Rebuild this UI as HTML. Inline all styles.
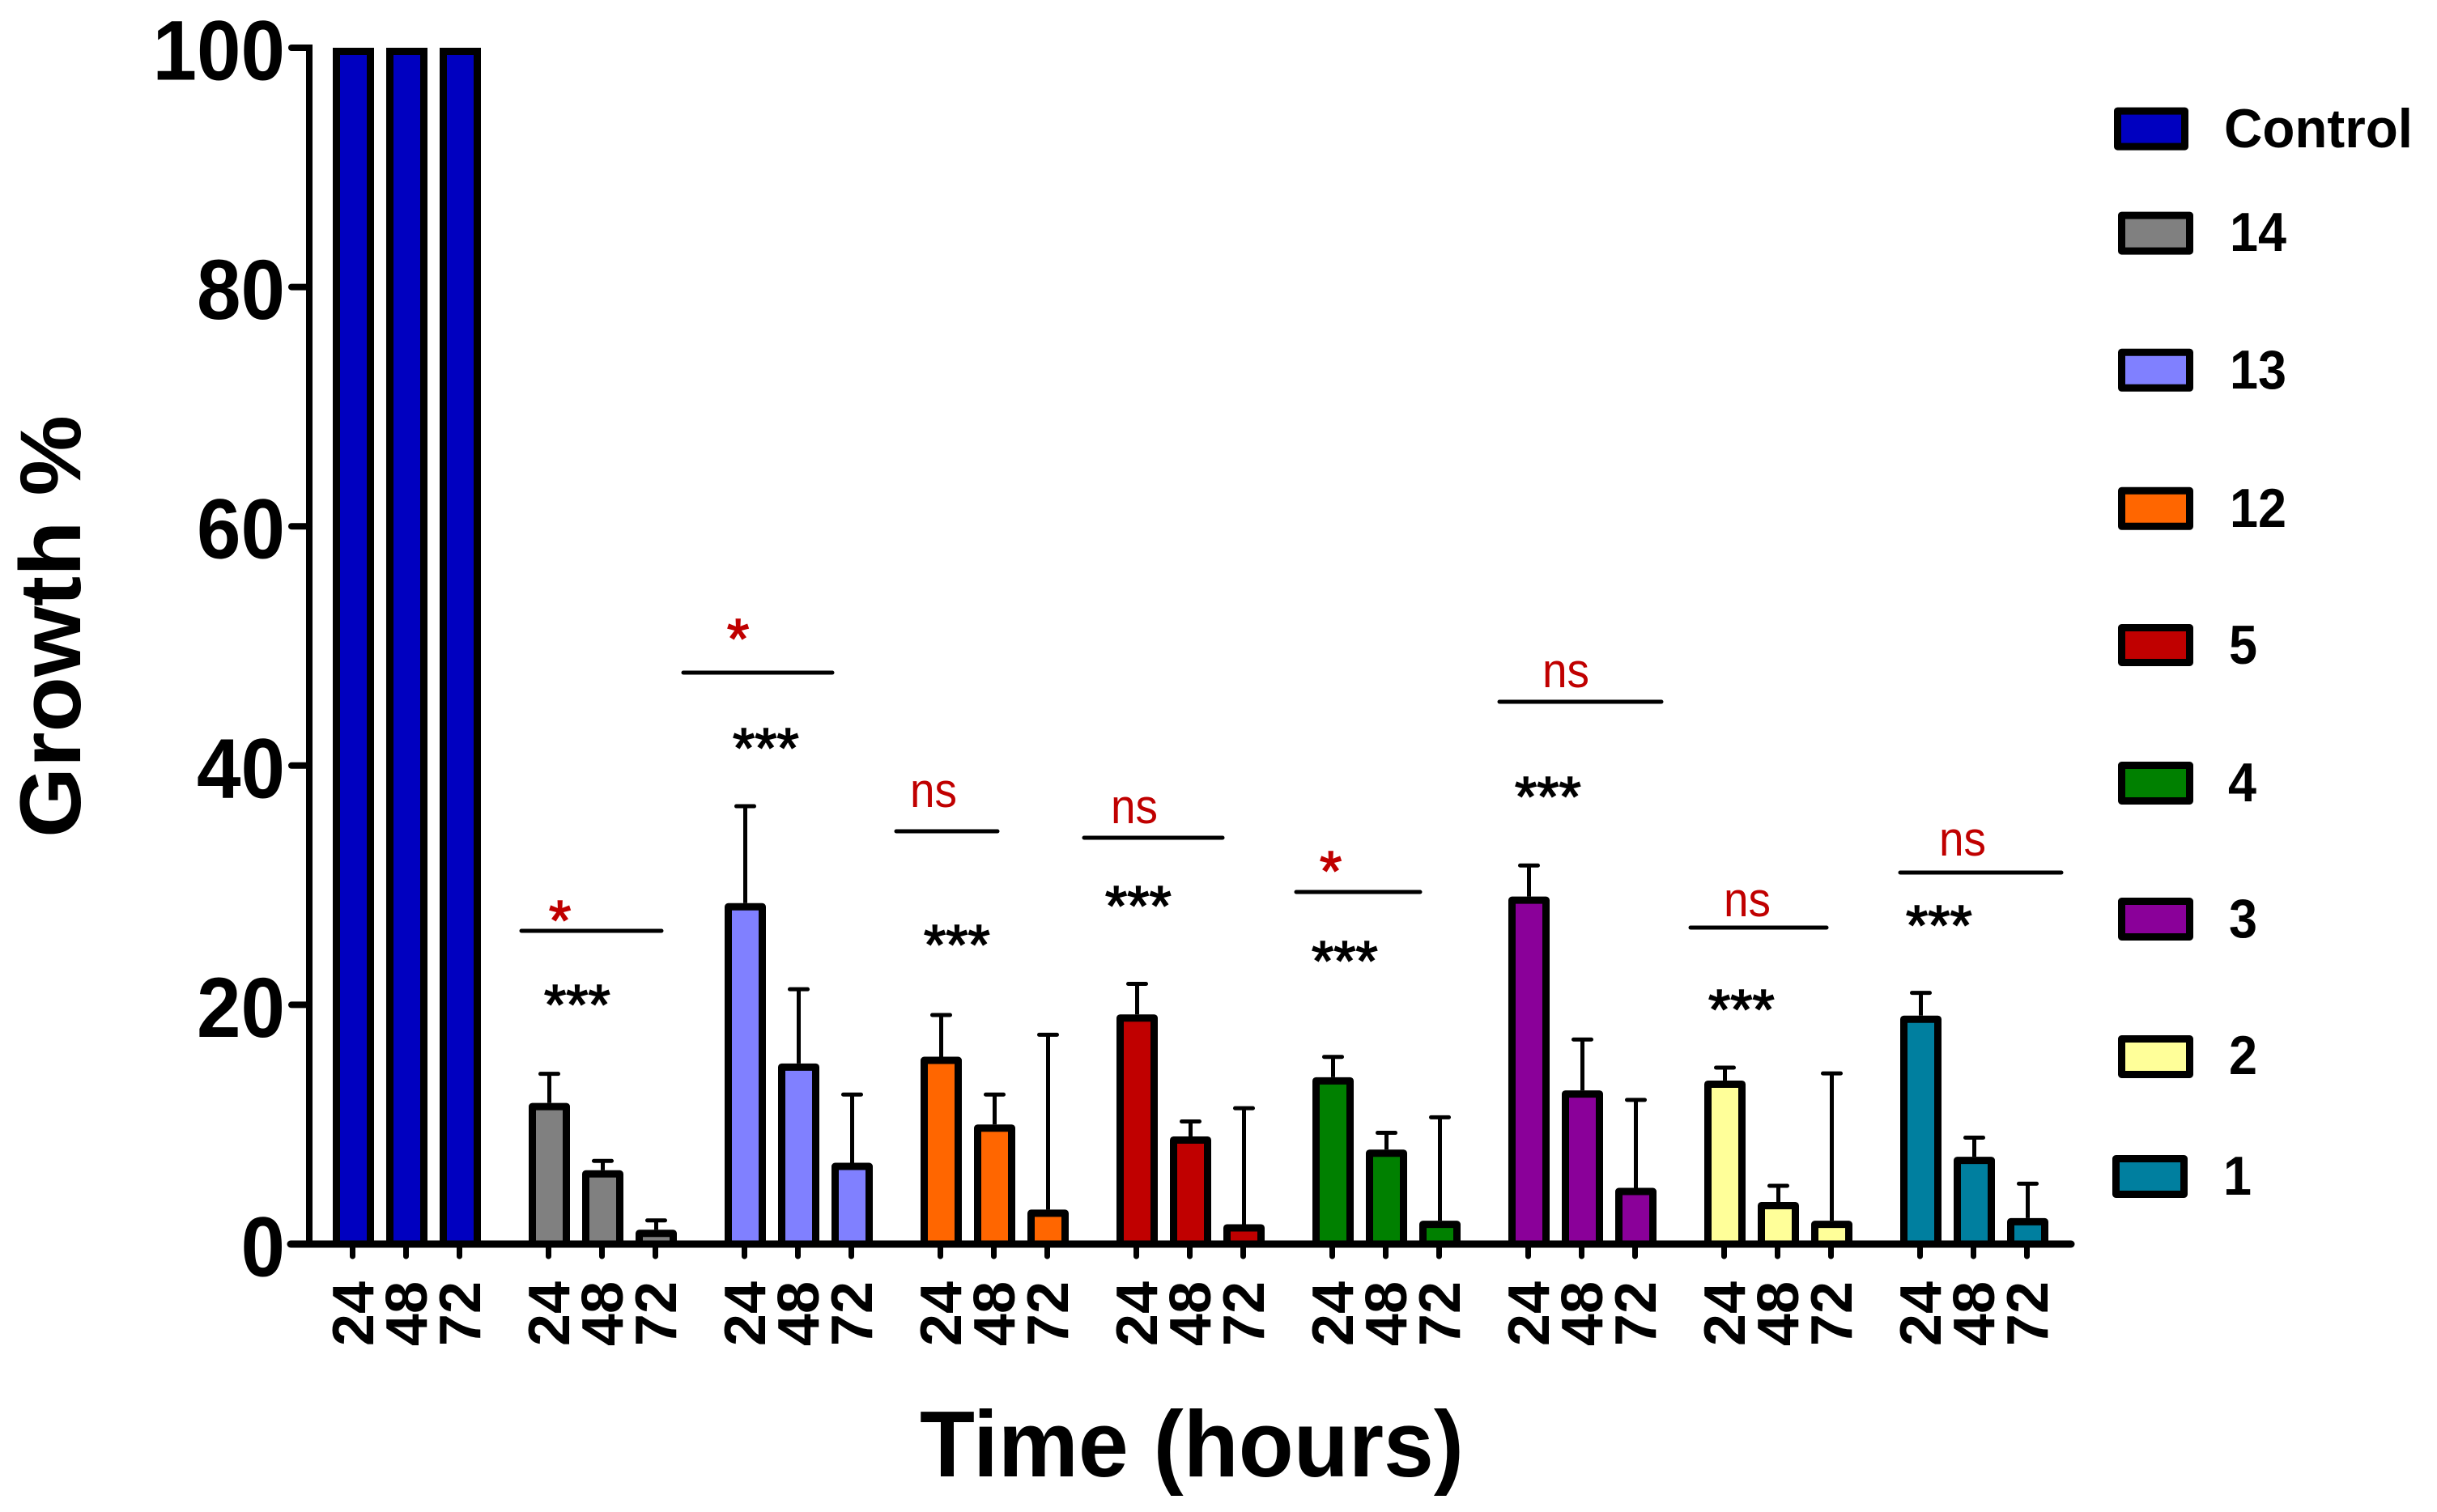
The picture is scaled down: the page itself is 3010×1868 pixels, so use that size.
<!DOCTYPE html>
<html>
<head>
<meta charset="utf-8">
<title>Growth % over time</title>
<style>
html,body{margin:0;padding:0;background:#fff;width:3010px;height:1868px;overflow:hidden}
svg{display:block}
text{font-family:"Liberation Sans",sans-serif}
.b{font-weight:700;fill:#000}
.stars{font-size:70px;fill:#000;stroke:#000;stroke-width:1.6}
.sig{fill:#c00000;stroke:#c00000}
.ns{font-size:60px;fill:#c00000}
.br{stroke:#000;stroke-width:5;stroke-linecap:round}
</style>
</head>
<body>
<svg id="chart" xmlns="http://www.w3.org/2000/svg" width="3010" height="1868" viewBox="0 0 3010 1868">
  <rect x="0" y="0" width="3010" height="1868" fill="#fff"/>
  <g id="marks"></g>
  <g id="axes"></g>

  <text class="b" font-size="107" transform="translate(99,1035) rotate(-90)" textLength="522" lengthAdjust="spacingAndGlyphs">Growth %</text>
  <text class="b" font-size="116" x="1136" y="1824" textLength="672" lengthAdjust="spacingAndGlyphs">Time (hours)</text>

  <g>
    <line class="br" x1="644" x2="817" y1="1150" y2="1150"/>
    <text class="stars sig" x="678" y="1161">*</text>
    <text class="stars" x="672" y="1265">***</text>

    <line class="br" x1="844" x2="1028" y1="831" y2="831"/>
    <text class="stars sig" x="898" y="813">*</text>
    <text class="stars" x="905" y="948">***</text>

    <line class="br" x1="1107" x2="1232" y1="1027" y2="1027"/>
    <text class="ns" x="1124" y="997" textLength="58" lengthAdjust="spacingAndGlyphs">ns</text>
    <text class="stars" x="1141" y="1191">***</text>

    <line class="br" x1="1339" x2="1510" y1="1035" y2="1035"/>
    <text class="ns" x="1372" y="1017" textLength="58" lengthAdjust="spacingAndGlyphs">ns</text>
    <text class="stars" x="1365" y="1143">***</text>

    <line class="br" x1="1601" x2="1754" y1="1102" y2="1102"/>
    <text class="stars sig" x="1630" y="1100">*</text>
    <text class="stars" x="1620" y="1211">***</text>

    <line class="br" x1="1852" x2="2052" y1="867" y2="867"/>
    <text class="ns" x="1905" y="849" textLength="58" lengthAdjust="spacingAndGlyphs">ns</text>
    <text class="stars" x="1871" y="1008">***</text>

    <line class="br" x1="2088" x2="2256" y1="1146" y2="1146"/>
    <text class="ns" x="2129" y="1132" textLength="58" lengthAdjust="spacingAndGlyphs">ns</text>
    <text class="stars" x="2110" y="1271">***</text>

    <line class="br" x1="2347" x2="2546" y1="1078" y2="1078"/>
    <text class="ns" x="2395" y="1057" textLength="58" lengthAdjust="spacingAndGlyphs">ns</text>
    <text class="stars" x="2354" y="1167">***</text>
  </g>

  <g id="legend"></g>
</svg>
<script>
// ---- chart data ----
const groups = ["Control","14","13","12","5","4","3","2","1"];
const times = ["24","48","72"];
const yTicks = [0,20,40,60,80,100];
const colors = ["#0000c0","#808080","#8080ff","#ff6600","#c00000","#008000","#8a0099","#ffff99","#007f9f"];

const valControl = [100,100,100];
const val14 = [11.8,6.17,1.2];
const val13 = [28.5,15.1,6.8];
const val12 = [15.66,10.0,2.88];
const val5  = [19.2,9.0,1.66];
const val4  = [13.95,7.9,1.95];
const val3  = [29.05,12.85,4.7];
const val2  = [13.67,3.52,1.95];
const val1  = [19.1,7.3,2.17];

const errControl = [0,0,0];
const err14 = [2.43,0.78,0.78];
const err13 = [8.1,6.2,5.7];
const err12 = [3.49,2.5,14.62];
const err5  = [2.55,1.25,9.7];
const err4  = [1.7,1.4,8.65];
const err3  = [2.6,4.25,7.35];
const err2  = [1.08,1.35,12.32];
const err1  = [1.9,1.6,2.88];

const values = [valControl,val14,val13,val12,val5,val4,val3,val2,val1];
const errors = [errControl,err14,err13,err12,err5,err4,err3,err2,err1];

// ---- axis functions ----
const NS = "http://www.w3.org/2000/svg";
function yScale(v){ return 1537 - v * 14.78; }
function xScale(g,t){ return 436.5 + 242 * g + 66 * t; }

function node(tag, parent, attrs, txt){
  const el = document.createElementNS(NS, tag);
  for (const k in attrs) el.setAttribute(k, attrs[k]);
  if (txt !== undefined) el.textContent = txt;
  parent.appendChild(el);
  return el;
}

const marks = document.getElementById("marks");
const axes = document.getElementById("axes");
const legend = document.getElementById("legend");

// bars and error bars
groups.forEach(function(name,g){
  times.forEach(function(tm,t){
    const cx = xScale(g,t);
    const v = values[g][t];
    const e = errors[g][t];
    const top = yScale(v);
    if (e > 0) {
      const up = yScale(v + e);
      const stem = node("line", marks, {x1:cx,x2:cx,y1:top,y2:up,stroke:"#000","stroke-width":5});
      
      
      const cap = node("line", marks, {x1:cx-11,x2:cx+11,y1:up,y2:up,stroke:"#000","stroke-width":5,"stroke-linecap":"round"});
      
      
    }
    const bar = node("rect", marks, {x:cx-21,y:top+4.5,width:42,height:Math.max(0,yScale(0)-top-4.5),fill:colors[g],stroke:"#000","stroke-width":9,"stroke-linejoin":g===0?"miter":"round"});
    
    

    const tick = node("line", axes, {x1:cx-1,x2:cx-1,y1:yScale(0),y2:1552,stroke:"#000","stroke-width":7,"stroke-linecap":"round"});
    
    

    const lab = node("text", axes, {"class":"b","font-size":72,"text-anchor":"end",transform:"translate("+(cx+24.5)+",1583) rotate(-90)"}, tm);
    
    
  });
});

// y axis
const yAxis = node("line", axes, {x1:382,x2:382,y1:yScale(100)-4,y2:yScale(0)+4,stroke:"#000","stroke-width":8});


const xAxis = node("line", axes, {x1:359,x2:2558,y1:yScale(0),y2:yScale(0),stroke:"#000","stroke-width":9,"stroke-linecap":"round"});



yTicks.forEach(function(v){
  const y = yScale(v);
  const tk = node("line", axes, {x1:360,x2:382,y1:y,y2:y,stroke:"#000","stroke-width":8,"stroke-linecap":"round"});
  
  
  const s = String(v);
  const lb = node("text", axes, {"class":"b","font-size":105,"text-anchor":"end",x:352,y:y+39.5,textLength:s.length*54.5,lengthAdjust:"spacingAndGlyphs"}, s);
  
  
});

// legend
const legendLabels = ["Control","14","13","12","5","4","3","2","1"];
const legendColors = colors;
const legendBoxes = [
  [2611,132.6,92,53],[2616,261.6,93,53],[2616,430.8,93,53],[2616,601.8,93,53],
  [2616,771,93,52],[2616,941,93,53],[2616,1109,93,53],[2616,1279,93,53],[2609,1427,93,53]
];
const legendText = [
  [2747,182,68,233],[2754,310,68,70],[2754,480,68,70],[2754,651,68,70],
  [2753,820,68,35],[2752,990,68,35],[2753,1158,68,35],[2753,1327,68,35],[2746,1476,68,35]
];
legendLabels.forEach(function(name,i){
  const b = legendBoxes[i];
  const sw = node("rect", legend, {x:b[0]+4.5,y:b[1]+4.5,width:b[2]-9,height:b[3]-9,fill:legendColors[i],stroke:"#000","stroke-width":9,"stroke-linejoin":"round"});
  
  
  const t = legendText[i];
  const lb = node("text", legend, {"class":"b",x:t[0],y:t[1],"font-size":t[2],textLength:t[3],lengthAdjust:"spacingAndGlyphs"}, name);
  
  
});
</script>
</body>
</html>
